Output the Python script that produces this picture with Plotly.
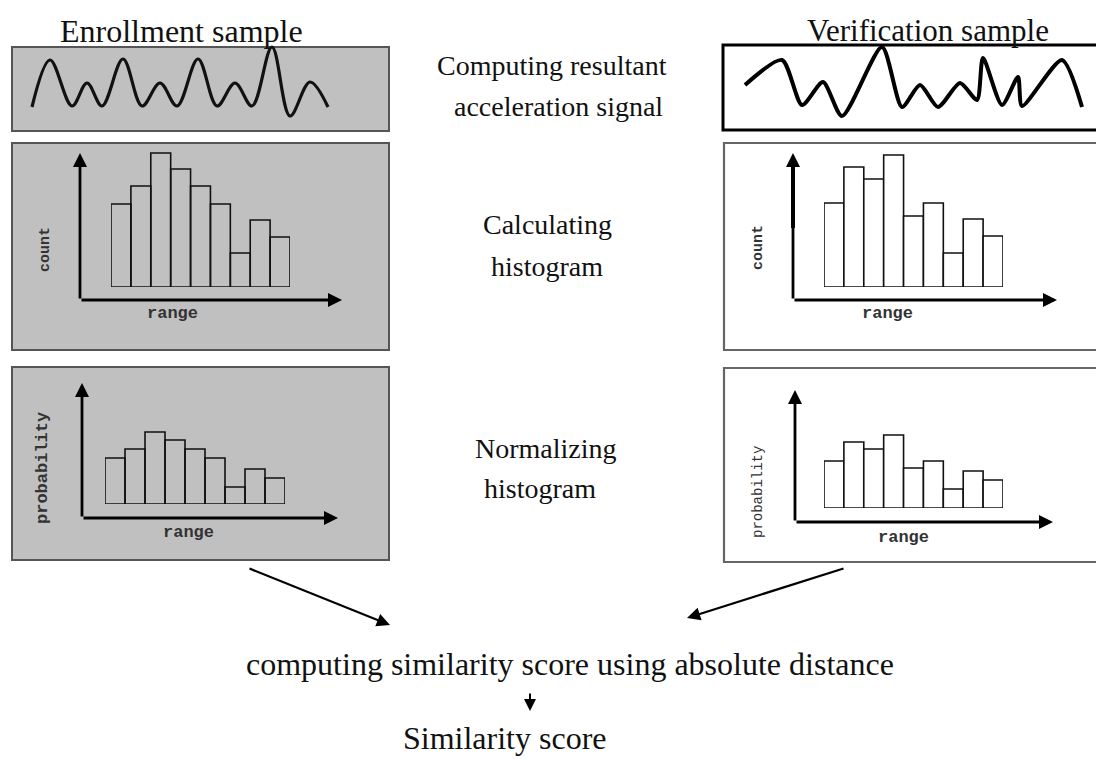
import plotly.graph_objects as go

W, H = 1096, 759

# histogram bins and heights
bins = list(range(9))
enroll_counts = [83, 101, 134, 118, 101, 83, 34, 67, 50]
verify_counts = [84, 120, 108, 132, 71, 84, 34, 68, 51]
enroll_probs = [46, 55, 72, 64, 55, 46, 17, 35, 26]
verify_probs = [47, 66, 59, 73, 40, 47, 19, 37, 28]

# acceleration signals (sample position, amplitude)
enroll_t = [0, 18, 40, 55, 70, 91, 110, 128, 145, 166, 185, 203, 220, 240, 258, 278, 296]
enroll_acc = [24, 71, 25, 48, 25, 72, 25, 48, 25, 72, 25, 48, 25, 84, 15, 49, 24]
verify_t = [0, 37, 57, 78, 97, 137, 157, 175, 193, 215, 232, 238, 257, 273, 277, 317, 337]
verify_acc = [45, 70, 25, 48, 14, 83, 23, 45, 23, 47, 30, 72, 25, 53, 24, 70, 23]

SERIF = "Liberation Serif, Times New Roman, serif"
MONO = "Liberation Mono, Courier New, monospace"


def px_x(p):
    return p / W


def px_y(p):
    return 1 - p / H


fig = go.Figure()
layout = dict(
    width=W, height=H, margin=dict(l=0, r=0, t=0, b=0),
    paper_bgcolor="white", plot_bgcolor="rgba(0,0,0,0)", showlegend=False,
    xaxis=dict(range=[0, W], domain=[0, 1], visible=False, fixedrange=True),
    yaxis=dict(range=[H, 0], domain=[0, 1], visible=False, fixedrange=True),
)

# invisible anchor trace for main pixel axes
fig.add_trace(go.Scatter(x=[0], y=[0], mode="markers", marker=dict(opacity=0), hoverinfo="skip"))

n = 2


def add_axes(xdom, ydom, xrange, yrange):
    global n
    k = n
    layout[f"xaxis{k}"] = dict(domain=[px_x(xdom[0]), px_x(xdom[1])], range=xrange,
                               anchor=f"y{k}", visible=False, fixedrange=True)
    layout[f"yaxis{k}"] = dict(domain=[px_y(ydom[0]), px_y(ydom[1])], range=yrange,
                               anchor=f"x{k}", visible=False, fixedrange=True)
    n += 1
    return f"x{k}", f"y{k}"


# signals
xa, ya = add_axes((12, 389), (131, 35), [-20, 357], [0, 96])
fig.add_trace(go.Scatter(x=enroll_t, y=enroll_acc, mode="lines", xaxis=xa, yaxis=ya,
                         line=dict(color="#111", width=3.2, shape="spline", smoothing=1)))
xa, ya = add_axes((723, 1096), (130, 35), [-22, 351], [0, 95])
fig.add_trace(go.Scatter(x=verify_t, y=verify_acc, mode="lines", xaxis=xa, yaxis=ya,
                         line=dict(color="#000", width=4, shape="spline", smoothing=0.7)))

# histograms
hists = [
    (enroll_counts, 111, 290, 287, "rgba(0,0,0,0)"),
    (verify_counts, 824, 1003, 287, "white"),
    (enroll_probs, 105, 285, 504, "rgba(0,0,0,0)"),
    (verify_probs, 824, 1003, 508, "white"),
]
for vals, left, right, base, fill in hists:
    xa, ya = add_axes((left, right), (base, base - 150), [-0.5, 8.5], [0, 150])
    fig.add_trace(go.Bar(x=bins, y=vals, width=1, xaxis=xa, yaxis=ya, cliponaxis=False,
                         marker=dict(color=fill, line=dict(color="#111", width=1.6))))

shapes = []
# left boxes (grey)
for y0, y1 in [(47, 131), (143, 350), (367, 560)]:
    shapes.append(dict(type="rect", xref="x", yref="y", x0=12, x1=389, y0=y0, y1=y1,
                       fillcolor="#c0c0c0", line=dict(color="#555", width=2), layer="below"))
# right boxes run off the right edge
shapes.append(dict(type="rect", xref="x", yref="y", x0=723, x1=1110, y0=45, y1=130,
                   fillcolor="white", line=dict(color="#000", width=3), layer="below"))
for y0, y1 in [(143, 350), (368, 562)]:
    shapes.append(dict(type="rect", xref="x", yref="y", x0=724, x1=1110, y0=y0, y1=y1,
                       fillcolor="white", line=dict(color="#666", width=2.2), layer="below"))
# thicker top part of the right count axis
shapes.append(dict(type="line", xref="x", yref="y", x0=793, x1=793, y0=160, y1=228,
                   line=dict(color="#000", width=4)))

annotations = []


def arrow(x0, y0, x1, y1, width=2.5, size=1.0, head=2):
    annotations.append(dict(x=x1, y=y1, ax=x0, ay=y0, xref="x", yref="y", axref="x", ayref="y",
                            text="", showarrow=True, arrowhead=head, arrowsize=size,
                            arrowwidth=width, arrowcolor="#000"))


# histogram axes
for ox, oy, top, xend in [(80, 300, 153, 342), (793, 300, 153, 1057),
                          (82, 518, 383, 338), (795, 522, 390, 1053)]:
    arrow(ox, oy, ox, top, width=2.8)
    arrow(ox, oy, xend, oy, width=2.8)

# flow arrows
arrow(248, 568, 390, 625, width=2.2, size=1.2)
arrow(845, 568, 687, 618, width=2.2, size=1.2)
arrow(530, 692, 530, 711, width=2, size=1.2)


def text(x, y, s, size, font=SERIF, angle=0, color="#111"):
    annotations.append(dict(x=x, y=y, xref="x", yref="y", text=s, showarrow=False,
                            xanchor="center", yanchor="middle", textangle=angle,
                            font=dict(family=font, size=size, color=color)))


text(181, 31, "Enrollment sample", 32)
text(928, 30, "Verification sample", 31)
text(552, 65, "Computing resultant", 28)
text(558, 106, "acceleration signal", 28)
text(547, 224, "Calculating", 28)
text(547, 266, "histogram", 28)
text(546, 448, "Normalizing", 28)
text(540, 488, "histogram", 28)
text(570, 664, "computing similarity score using absolute distance", 32)
text(505, 738, "Similarity score", 32)

# axis labels inside histogram panels
text(45, 250, "<b>count</b>", 15, MONO, -90, "#333")
text(172, 313, "<b>range</b>", 17, MONO, 0, "#333")
text(758, 248, "<b>count</b>", 15, MONO, -90, "#333")
text(887, 313, "<b>range</b>", 17, MONO, 0, "#333")
text(42, 468, "<b>probability</b>", 17, MONO, -90, "#333")
text(188, 532, "<b>range</b>", 17, MONO, 0, "#333")
text(758, 492, "probability", 14, MONO, -90, "#333")
text(903, 537, "<b>range</b>", 17, MONO, 0, "#333")

layout["shapes"] = shapes
layout["annotations"] = annotations
fig.update_layout(**layout)
# drop the default page margin so the figure fills the window exactly
fig.write_html("out.html", config={"displayModeBar": False},
               post_script="document.body.style.margin='0';document.body.style.overflow='hidden';")
